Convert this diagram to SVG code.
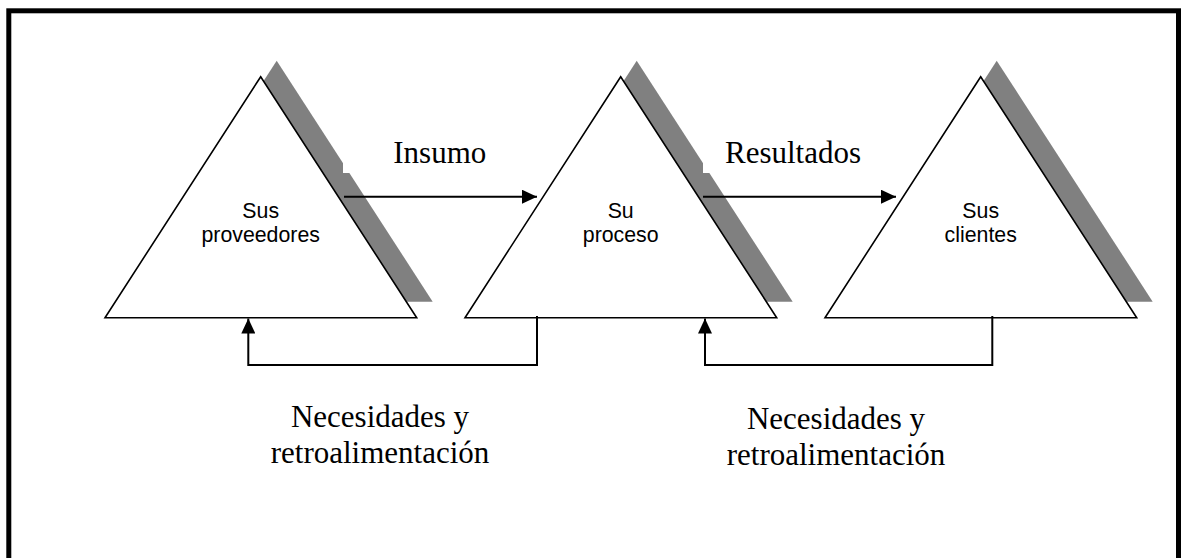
<svg xmlns="http://www.w3.org/2000/svg" width="1183" height="558" viewBox="0 0 1183 558">
<defs>
<style>
.shadow{fill:#808080;stroke:none}
.tri{fill:#fff;stroke:#000;stroke-width:1.6;stroke-linejoin:miter}
.small{font-family:"Liberation Sans",Arial,sans-serif;font-size:21.3px;fill:#000;text-anchor:middle}
.big{font-family:"Liberation Serif","Times New Roman",serif;font-size:31px;fill:#000}
.big-c{font-family:"Liberation Serif","Times New Roman",serif;font-size:31px;fill:#000;text-anchor:middle}
.conn{fill:none;stroke:#000;stroke-width:2}
.mask{fill:#fff;stroke:none}
</style>
<marker id="ah" markerUnits="userSpaceOnUse" markerWidth="15" markerHeight="14" refX="15" refY="7" orient="auto">
<path d="M0,0 L15,7 L0,14 Z" fill="#000"/>
</marker>
</defs>
<rect x="0" y="0" width="1183" height="558" fill="#fff"/>
<rect id="frame" x="8.8" y="10.8" width="1169.7" height="560" fill="none" stroke="#000" stroke-width="5"/>

<g id="node-proveedores">
<polygon class="shadow" points="276.7,60.7 121,301.7 432.7,301.7"/>
<polygon class="tri" points="260.7,76.7 105,317.7 416.7,317.7"/>
<text class="small" x="260.7" y="217.5">Sus</text>
<text class="small" x="260.7" y="241.7">proveedores</text>
</g>

<g id="node-proceso">
<polygon class="shadow" points="636.7,60.7 481,301.7 792.7,301.7"/>
<polygon class="tri" points="620.7,76.7 465,317.7 776.7,317.7"/>
<text class="small" x="620.7" y="217.5">Su</text>
<text class="small" x="620.7" y="241.7">proceso</text>
</g>

<g id="node-clientes">
<polygon class="shadow" points="996.7,60.7 841,301.7 1152.7,301.7"/>
<polygon class="tri" points="980.7,76.7 825,317.7 1136.7,317.7"/>
<text class="small" x="980.7" y="217.5">Sus</text>
<text class="small" x="980.7" y="241.7">clientes</text>
</g>

<g id="label-insumo">
<rect class="mask" x="343" y="130" width="150" height="43"/>
<text class="big" x="393.3" y="163.3">Insumo</text>
</g>
<g id="label-resultados">
<rect class="mask" x="703" y="130" width="170" height="43"/>
<text class="big" x="725" y="163.3">Resultados</text>
</g>

<g id="connectors">
<line class="conn" x1="344" y1="196.7" x2="537" y2="196.7" marker-end="url(#ah)"/>
<line class="conn" x1="703" y1="196.7" x2="896" y2="196.7" marker-end="url(#ah)"/>
<polyline class="conn" points="537,316 537,365 248.3,365 248.3,318.5" marker-end="url(#ah)"/>
<polyline class="conn" points="992.3,316 992.3,365 705,365 705,318.5" marker-end="url(#ah)"/>
</g>

<g id="label-necesidades-1">
<text class="big-c" x="380" y="426.7">Necesidades y</text>
<text class="big-c" x="380" y="463.3">retroalimentación</text>
</g>
<g id="label-necesidades-2">
<text class="big-c" x="836" y="429.3">Necesidades y</text>
<text class="big-c" x="836" y="465">retroalimentación</text>
</g>
</svg>
